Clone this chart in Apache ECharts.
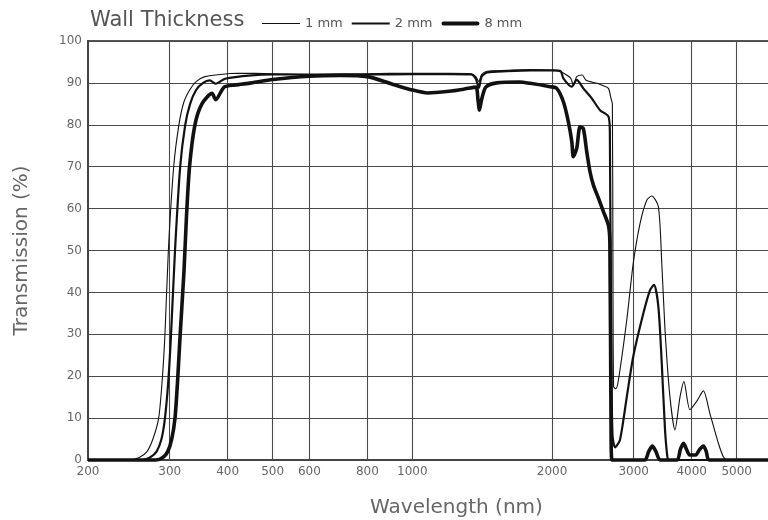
<!DOCTYPE html>
<html>
<head>
<meta charset="utf-8">
<script src="https://cdn.jsdelivr.net/npm/echarts@6/dist/echarts.min.js"></script>
<style>
html,body{margin:0;padding:0;background:#fff;}
#c{width:768px;height:520px;}
</style>
</head>
<body>
<div id="c"></div>
<script>
var seriesNames = ['1 mm', '2 mm', '8 mm'];
var xTicks = [200, 300, 400, 500, 600, 800, 1000, 2000, 3000, 4000, 5000];

var nm1 = [200, 246, 258, 268, 276, 284, 289, 293, 298, 306, 314, 322, 332, 342, 357, 385, 420, 500, 600, 800, 1000, 1200, 1340, 1370, 1392, 1410, 1450, 1600, 1800, 2000, 2047, 2120, 2195, 2223, 2261, 2323, 2365, 2415, 2500, 2580, 2646, 2680, 2698, 2706, 2715, 2745, 2780, 2898, 2993, 3096, 3200, 3280, 3390, 3448, 3504, 3591, 3681, 3774, 3849, 3965, 4100, 4238, 4380, 4566, 4680, 4770, 5870];
var t1 = [0, 0, 0.6, 2, 5, 10, 19, 30, 50, 70, 80, 85.5, 88.5, 90.3, 91.5, 92, 92.3, 92.2, 92, 92.2, 92.3, 92.3, 92.2, 91.5, 90.3, 92, 92.8, 93, 93.2, 93, 93, 92.3, 91.1, 89.5, 91.5, 91.9, 90.7, 90.3, 89.9, 89.3, 88.7, 86.3, 85, 45, 17.5, 17, 19, 33.4, 47, 56.5, 62, 63, 60.5, 47, 31, 15, 7.2, 15, 18.7, 12, 14, 16.5, 11, 4, 0.8, 0, 0];

var nm2 = [200, 262, 272, 281, 288, 293, 298, 302, 308, 316, 324, 332, 342, 354, 366, 377, 395, 450, 500, 600, 800, 1000, 1200, 1340, 1370, 1392, 1410, 1450, 1600, 1800, 2000, 2087, 2116, 2206, 2261, 2336, 2436, 2538, 2646, 2665, 2680, 2700, 2735, 2802, 2898, 2993, 3147, 3254, 3318, 3390, 3448, 3504, 3545, 3570, 5870];
var t2 = [0, 0, 0.6, 2, 5, 10, 19, 30, 50, 70, 80, 85, 88.3, 90, 90.6, 89.8, 91, 91.8, 92, 92, 92, 92.1, 92.1, 92, 91, 88.8, 91.5, 92.5, 92.8, 93, 93, 92.8, 91.1, 89.1, 90.7, 88.7, 86.3, 83.5, 82, 78, 30, 6, 3, 4.8, 15, 24.7, 35, 40.6, 41.8, 36.6, 23, 7.2, 0.8, 0, 0];

var nm8 = [200, 280, 290, 297, 303, 308, 312, 316, 322, 326, 331, 340, 352, 370, 377, 393, 415, 450, 500, 600, 700, 800, 900, 1000, 1080, 1200, 1290, 1370, 1385, 1395, 1410, 1440, 1520, 1700, 1794, 1980, 2047, 2116, 2169, 2206, 2223, 2261, 2298, 2336, 2376, 2415, 2456, 2518, 2581, 2646, 2665, 2680, 2692, 3170, 3230, 3290, 3350, 3420, 3720, 3780, 3840, 3900, 3960, 4080, 4160, 4240, 4300, 4360, 5870];
var t8 = [0, 0, 0.6, 2, 5, 10, 19, 30, 45, 58, 70, 80, 85, 87.5, 86, 89, 89.5, 90, 90.8, 91.6, 91.8, 91.5, 89.8, 88.3, 87.6, 88, 88.5, 89, 86, 83.5, 86, 89, 90, 90.2, 89.9, 89.1, 88.7, 85.5, 80.7, 76, 72.4, 74.4, 79.5, 79.1, 73.6, 68.8, 65.6, 62.5, 59.3, 56, 52, 10, 0, 0, 2, 3.3, 2, 0, 0, 2.5, 4, 2.5, 1.2, 1.2, 2.5, 3.3, 2, 0, 0];

function zip(xs, ys) { return xs.map(function (x, i) { return [x, ys[i]]; }); }

var FONT = 'DejaVu Sans';
var chart = echarts.init(document.getElementById('c'), null, { renderer: 'canvas' });
var lineWidths = [1.1, 2.2, 3.6];
var datas = [zip(nm1, t1), zip(nm2, t2), zip(nm8, t8)];

chart.setOption({
  animation: false,
  backgroundColor: '#fff',
  title: {
    text: 'Wall Thickness',
    left: 90, top: 10, padding: 0,
    textStyle: { fontFamily: FONT, fontSize: 21, fontWeight: 'normal', color: '#555' }
  },
  legend: {
    left: 262, top: 17, padding: 0,
    itemWidth: 38, itemHeight: 10, itemGap: 9,
    textStyle: { fontFamily: FONT, fontSize: 13, color: '#555' },
    itemStyle: { borderWidth: 0 },
    data: [
      { name: seriesNames[0], icon: 'path://M0,0H40V1.1H0Z' },
      { name: seriesNames[1], icon: 'path://M0,0H40V2.2H0Z' },
      { name: seriesNames[2], icon: 'path://M2,0H38A2,2 0 0 1 38,4.4H2A2,2 0 0 1 2,0Z' }
    ]
  },
  grid: { left: 88, right: -1, top: 41, bottom: 60, outerBoundsMode: 'none', containLabel: false,
    show: true, borderColor: '#555', borderWidth: 2 },
  xAxis: {
    type: 'log', logBase: 10, min: 200, max: 5870,
    name: 'Wavelength (nm)', nameLocation: 'middle', nameGap: 38,
    nameTextStyle: { fontFamily: FONT, fontSize: 20, color: '#666', padding: [0, 0, 0, 56] },
    axisLine: { show: true, lineStyle: { color: '#444', width: 2 } },
    axisTick: { show: false, customValues: xTicks },
    axisLabel: { customValues: xTicks, fontFamily: FONT, fontSize: 12, color: '#666', margin: 6,
      formatter: function (v) { return String(Math.round(v)); } },
    splitLine: { show: true, lineStyle: { color: '#4a4a4a', width: 1.1 } },
    minorSplitLine: { show: false }
  },
  yAxis: {
    type: 'value', min: 0, max: 100, interval: 10,
    name: 'Transmission (%)', nameLocation: 'middle', nameGap: 56, nameRotate: 90,
    nameTextStyle: { fontFamily: FONT, fontSize: 20, color: '#666' },
    axisLine: { show: true, lineStyle: { color: '#444', width: 2 } },
    axisTick: { show: false },
    axisLabel: { fontFamily: FONT, fontSize: 12, color: '#666', margin: 6 },
    splitLine: { show: true, lineStyle: { color: '#4a4a4a', width: 1.1 } }
  },
  series: seriesNames.map(function (n, i) {
    return {
      name: n, type: 'line', data: datas[i],
      showSymbol: false, symbol: 'none', smooth: 0.25, clip: false,
      color: '#111',
      lineStyle: { color: '#111', width: lineWidths[i] },
      z: 3 + i
    };
  })
});
</script>
</body>
</html>
